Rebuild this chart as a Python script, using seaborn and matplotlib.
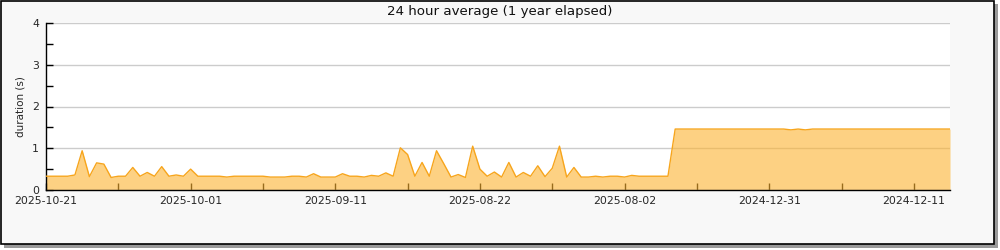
import numpy as np
import pandas as pd
import seaborn as sns
import matplotlib
matplotlib.use("Agg")
import matplotlib.pyplot as plt
from matplotlib.patches import Rectangle
from matplotlib.ticker import MultipleLocator

# ---- data ----
title = "24 hour average (1 year elapsed)"
y_label = "duration (s)"
tick_labels = ["2025-10-21", "2025-10-01", "2025-09-11", "2025-08-22",
               "2025-08-02", "2024-12-31", "2024-12-11"]
durations = [
    0.33, 0.33, 0.33, 0.33, 0.36, 0.94, 0.32, 0.65, 0.62, 0.30,
    0.33, 0.33, 0.54, 0.33, 0.42, 0.33, 0.56, 0.33, 0.36, 0.33,
    0.50, 0.33, 0.33, 0.33, 0.33, 0.31, 0.33, 0.33, 0.33, 0.33,
    0.33, 0.31, 0.31, 0.31, 0.33, 0.33, 0.31, 0.39, 0.31, 0.31,
    0.31, 0.39, 0.33, 0.33, 0.31, 0.35, 0.33, 0.41, 0.33, 1.01,
    0.85, 0.33, 0.66, 0.33, 0.94, 0.63, 0.31, 0.37, 0.30, 1.05,
    0.50, 0.33, 0.43, 0.31, 0.66, 0.31, 0.42, 0.33, 0.58, 0.32,
    0.52, 1.05, 0.31, 0.54, 0.31, 0.31, 0.33, 0.31, 0.33, 0.33,
    0.31, 0.35, 0.33, 0.33, 0.33, 0.33, 0.33, 1.46, 1.46, 1.46,
    1.46, 1.46, 1.46, 1.46, 1.46, 1.46, 1.46, 1.46, 1.46, 1.46,
    1.46, 1.46, 1.46, 1.44, 1.46, 1.44, 1.46, 1.46, 1.46, 1.46,
    1.46, 1.46, 1.46, 1.46, 1.46, 1.46, 1.46, 1.46, 1.46, 1.46,
    1.46, 1.46, 1.46, 1.46, 1.46, 1.46,
]
day_index = list(range(len(durations)))

df = pd.DataFrame({"day": day_index, "duration": durations})

# ---- style ----
sns.set_style("white")
plt.rcParams["font.family"] = ["DejaVu Sans"]

fig = plt.figure(figsize=(10, 2.5), dpi=100, facecolor="white")

# framed background with shadow
fig.patches.append(Rectangle((4 / 1000, 2 / 250), 994 / 1000, 244 / 250,
                             transform=fig.transFigure, facecolor="#9a9a9a",
                             edgecolor="none", zorder=-3))
fig.patches.append(Rectangle((1 / 1000, 6 / 250), 993 / 1000, 243 / 250,
                             transform=fig.transFigure, facecolor="#f8f8f8",
                             edgecolor="black", linewidth=1.2, zorder=-2))

ax = fig.add_axes([46 / 1000, 60 / 250, 904 / 1000, 167 / 250])
ax.set_facecolor("white")

ax.fill_between(df["day"], df["duration"], 0, color="#fdb330", alpha=0.6,
                linewidth=0, zorder=2)
sns.lineplot(data=df, x="day", y="duration", ax=ax, color="#f7a51c",
             linewidth=1.0, zorder=3)

ax.set_xlim(0, len(durations) - 1)
ax.set_ylim(0, 4)

ax.set_xticks(range(0, 20 * len(tick_labels), 20))
ax.set_xticklabels(tick_labels)
ax.xaxis.set_minor_locator(MultipleLocator(10))
ax.yaxis.set_major_locator(MultipleLocator(1))
ax.yaxis.set_minor_locator(MultipleLocator(0.5))

ax.grid(axis="y", which="major", color="#cccccc", linewidth=1.0)
ax.set_axisbelow(True)

ax.tick_params(axis="both", which="both", direction="in", length=5,
               width=1, color="black", labelsize=7.8, left=True, bottom=True)
ax.tick_params(axis="x", pad=4)
ax.tick_params(axis="y", pad=5)

for s in ["top", "right"]:
    ax.spines[s].set_visible(False)
for s in ["left", "bottom"]:
    ax.spines[s].set_color("black")
    ax.spines[s].set_linewidth(1.0)

ax.set_xlabel("")
ax.set_ylabel(y_label, fontsize=7.5, labelpad=5)

fig.text(0.5, 1 - 11 / 250, title, ha="center", va="center", fontsize=9.6,
         color="#111111")

fig.savefig("out.png", dpi=100, facecolor=fig.get_facecolor())
